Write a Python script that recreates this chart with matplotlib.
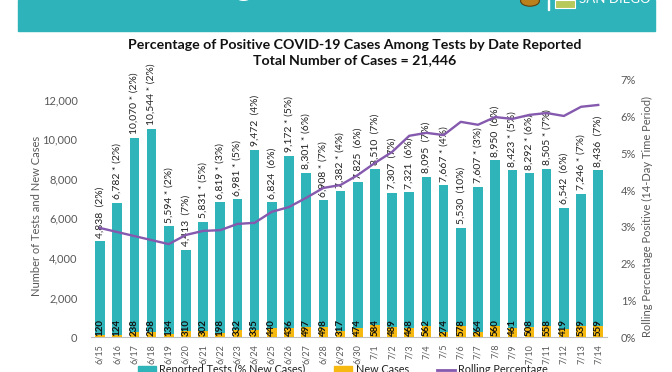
import matplotlib.pyplot as plt
from matplotlib.patches import Rectangle, Circle
from matplotlib.lines import Line2D
from matplotlib.patches import Patch

plt.rcParams['font.family'] = ['Lato', 'DejaVu Sans']

dates = ['6/15', '6/16', '6/17', '6/18', '6/19', '6/20', '6/21', '6/22', '6/23', '6/24',
         '6/25', '6/26', '6/27', '6/28', '6/29', '6/30', '7/1', '7/2', '7/3', '7/4',
         '7/5', '7/6', '7/7', '7/8', '7/9', '7/10', '7/11', '7/12', '7/13', '7/14']
tests = [4838, 6782, 10070, 10544, 5594, 4413, 5831, 6819, 6981, 9472,
         6824, 9172, 8301, 6908, 7382, 7825, 8510, 7307, 7321, 8095,
         7667, 5530, 7607, 8950, 8423, 8292, 8505, 6542, 7246, 8436]
new_cases = [120, 124, 238, 258, 134, 310, 302, 198, 332, 335,
             440, 436, 497, 498, 317, 474, 584, 489, 468, 562,
             274, 578, 264, 560, 461, 508, 558, 419, 539, 559]
pct_new = [2, 2, 2, 2, 2, 7, 5, 3, 5, 4,
           6, 5, 6, 7, 4, 6, 7, 7, 6, 7,
           4, 10, 3, 6, 5, 6, 7, 6, 7, 7]
starred = [0, 1, 1, 1, 1, 0, 1, 1, 1, 0,
           0, 1, 1, 1, 1, 0, 0, 0, 0, 0,
           1, 0, 1, 0, 1, 1, 1, 0, 1, 0]
rolling = [2.97, 2.86, 2.75, 2.64, 2.53, 2.78, 2.89, 2.91, 3.08, 3.11,
           3.41, 3.54, 3.79, 4.06, 4.14, 4.41, 4.74, 5.04, 5.48, 5.56,
           5.50, 5.86, 5.78, 5.99, 5.94, 6.05, 6.10, 6.02, 6.27, 6.32]

teal = '#2FB4BA'
orange = '#F6B90F'
purple = '#8459AE'
grey = '#595959'

fig = plt.figure(figsize=(6.72, 3.72), dpi=100)
ax = fig.add_axes([0.136, 0.094, 0.767, 0.691])
ax2 = ax.twinx()

x = list(range(len(dates)))
ax.bar(x, tests, width=0.56, color=teal, zorder=2)
ax.bar(x, new_cases, width=0.56, color=orange, zorder=3)

for i in x:
    star = ' * ' if starred[i] else '  '
    lab = f'{tests[i]:,}{star}({pct_new[i]}%)'
    ax.annotate(lab, (i, tests[i]), xytext=(0, 2.5), textcoords='offset points',
                rotation=90, ha='center', va='bottom', fontsize=7.5, color='#222222')
    ax.annotate(str(new_cases[i]), (i, 0), xytext=(0, 1), textcoords='offset points',
                rotation=90, ha='center', va='bottom', fontsize=7, color='#111111',
                fontweight='bold', zorder=5)

ax2.plot(x, [r / 100 for r in rolling], color=purple, lw=1.7, zorder=4)

ax.set_xlim(-0.5, len(dates) - 0.5)
ax.set_ylim(0, 13000)
ax.set_yticks(range(0, 12001, 2000))
ax.set_yticklabels([f'{v:,}' for v in range(0, 12001, 2000)])
ax2.set_ylim(0, 0.07)
ax2.set_yticks([i / 100 for i in range(8)])
ax2.set_yticklabels([f'{i}%' for i in range(8)])
ax.set_xticks(x)
ax.set_xticklabels(dates, rotation=90, fontsize=6.5, color=grey)

for a in (ax, ax2):
    for s in ('top', 'left', 'right'):
        a.spines[s].set_visible(False)
    a.tick_params(length=0, colors=grey, labelsize=8)
ax2.spines['bottom'].set_visible(False)
ax.spines['bottom'].set_color('#BFBFBF')
ax.tick_params(axis='x', labelsize=6.5, pad=5)
ax.tick_params(axis='y', pad=10)
ax2.tick_params(axis='y', pad=10)

ax.set_ylabel('Number of Tests and New Cases', fontsize=8, color=grey)
ax.yaxis.set_label_coords(-0.096, 0.47)
ax2.set_ylabel('Rolling Percentage Positive (14-Day Time Period)', fontsize=8, color=grey)
ax2.yaxis.set_label_coords(1.069, 0.47)

fig.text(0.528, 0.880, 'Percentage of Positive COVID-19 Cases Among Tests by Date Reported',
         ha='center', va='center', fontsize=10.2, fontweight='bold', color='#111111')
fig.text(0.528, 0.838, 'Total Number of Cases = 21,446',
         ha='center', va='center', fontsize=10.2, fontweight='bold', color='#111111')

# header band, cut off at the top
fig.patches.append(Rectangle((18 / 672, 1 - 31 / 372), 637 / 672, 31 / 372,
                             transform=fig.transFigure, color='#2EB3BB', zorder=0))
fig.text(253 / 672, 1 + 4 / 372, 'Testing', ha='right', va='baseline', fontsize=24,
         color='white', fontweight='bold')
fig.patches.append(Circle((530 / 672, 1 - 1 / 372), 0.014, transform=fig.transFigure,
                          facecolor='#B9801C', edgecolor='#5E400E', lw=0.8))
fig.patches.append(Rectangle((548 / 672, 1 - 10 / 372), 0.8 / 672, 10 / 372,
                             transform=fig.transFigure, color='white'))
fig.patches.append(Rectangle((555 / 672, 1 - 8 / 372), 20 / 672, 8 / 372,
                             transform=fig.transFigure, facecolor='#B7C95A',
                             edgecolor='white', lw=0.8))
fig.text(579 / 672, 1 + 1 / 372, 'SAN DIEGO', ha='left', va='center', fontsize=9.5,
         color='white')

handles = [Patch(color=teal), Patch(color=orange), Line2D([], [], color=purple, lw=2)]
fig.legend(handles, ['Reported Tests (% New Cases)', 'New Cases', 'Rolling Percentage'],
           ncol=3, loc='upper center', bbox_to_anchor=(343 / 672, 0.047), frameon=False,
           fontsize=7.8, handlelength=1.7, handleheight=0.7, columnspacing=2.6,
           handletextpad=0.3, labelcolor='#222222')

fig.savefig('out.png', dpi=100)
